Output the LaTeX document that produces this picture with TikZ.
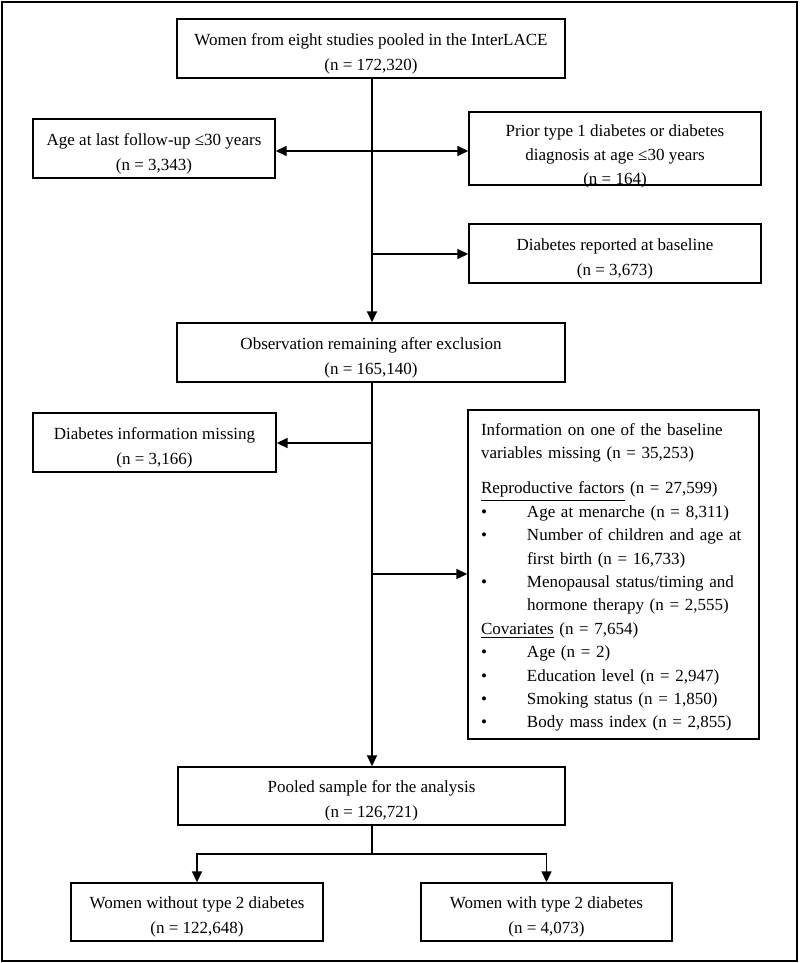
\documentclass[tikz,border=0pt]{standalone}
\usepackage{fontspec}
\setmainfont{Liberation Serif}
\usetikzlibrary{arrows.meta}
\newcommand{\bulitem}{\hspace*{0pt}\makebox[23pt][l]{\textbullet}}
\newcommand{\bulcont}{\hspace*{23pt}}
\newcommand{\boxstrut}[1][11pt]{\rule{0pt}{#1}}
\begin{document}
\begin{tikzpicture}[x=0.5pt,y=0.5pt,yscale=-1,xscale=1,
  box/.style={draw,line width=0.7pt,inner sep=1pt,align=center,font=\fontsize{8.5}{12.5}\selectfont},
  arr/.style={line width=0.8pt,-{Triangle[length=5.5pt,width=5pt]}},
  ln/.style={line width=0.8pt}]
\useasboundingbox (0,0) rectangle (800,963);
%Outer frame
\draw [line width=0.8pt] (2,2) rectangle (797,961);

% Text Node
\node [box,minimum width=194pt,minimum height=29.5pt] (start) at (371,48.5) {\boxstrut Women from eight studies pooled in the InterLACE\\(n = 172,320)};
% Text Node
\node [box,minimum width=121pt,minimum height=29.5pt] (age) at (154,148.5) {\boxstrut Age at last follow-up ≤30 years\\(n = 3,343)};
% Text Node
\node [box,minimum width=146pt,minimum height=36.5pt,inner ysep=0pt,font=\fontsize{8.5}{12}\selectfont] (prior) at (615,148.5) {\boxstrut[12pt]Prior type 1 diabetes or diabetes\\diagnosis at age ≤30 years\\\smash{(n = 164)}};
% Text Node
\node [box,minimum width=146pt,minimum height=29.5pt] (base) at (615,253.5) {\boxstrut Diabetes reported at baseline\\(n = 3,673)};
% Text Node
\node [box,minimum width=194pt,minimum height=29.5pt] (obs) at (371,352.5) {\boxstrut Observation remaining after exclusion\\(n = 165,140)};
% Text Node
\node [box,minimum width=121.5pt,minimum height=29.5pt] (miss) at (154.5,442.5) {\boxstrut Diabetes information missing\\(n = 3,166)};
% Text Node
\node [box,align=left,text width=132.5pt,inner xsep=6.5pt,minimum height=164.5pt,font=\fontsize{8.5}{11.7}\selectfont] (info) at (613.5,574.5) {\boxstrut[9pt]Information on one of the baseline\\
variables missing (n = 35,253)\\[5.8pt]
\underline{Reproductive factors} (n = 27,599)\\
\bulitem Age at menarche (n = 8,311)\\
\bulitem Number of children and age at\\
\bulcont first birth (n = 16,733)\\
\bulitem Menopausal status/timing and\\
\bulcont hormone therapy (n = 2,555)\\
\underline{Covariates} (n = 7,654)\\
\bulitem Age (n = 2)\\
\bulitem Education level (n = 2,947)\\
\bulitem Smoking status (n = 1,850)\\
\bulitem Body mass index (n = 2,855)};
% Text Node
\node [box,minimum width=193.5pt,minimum height=29pt] (pool) at (371.5,796) {\boxstrut Pooled sample for the analysis\\(n = 126,721)};
% Text Node
\node [box,minimum width=126pt,minimum height=29pt] (without) at (197,912) {\boxstrut Women without type 2 diabetes\\(n = 122,648)};
% Text Node
\node [box,minimum width=125.5pt,minimum height=29pt] (with) at (546.5,912) {\boxstrut Women with type 2 diabetes\\(n = 4,073)};

%Straight Lines
\coordinate (j1) at (372,151);
\coordinate (j2) at (372,254);
\coordinate (j3) at (372,443);
\coordinate (j4) at (372,574);
\coordinate (j5) at (372,854);
\draw [arr] (start.south -| j1) -- (obs.north -| j1);
\draw [arr] (j1) -- (j1 -| age.east);
\draw [arr] (j1) -- (j1 -| prior.west);
\draw [arr] (j2) -- (j2 -| base.west);
\draw [arr] (obs.south -| j3) -- (pool.north -| j3);
\draw [arr] (j3) -- (j3 -| miss.east);
\draw [arr] (j4) -- (j4 -| info.west);
\draw [ln] (pool.south -| j5) -- (j5);
\draw [arr] (j5) -| (without.north);
\draw [arr] (j5) -| (with.north);
\end{tikzpicture}
\end{document}
